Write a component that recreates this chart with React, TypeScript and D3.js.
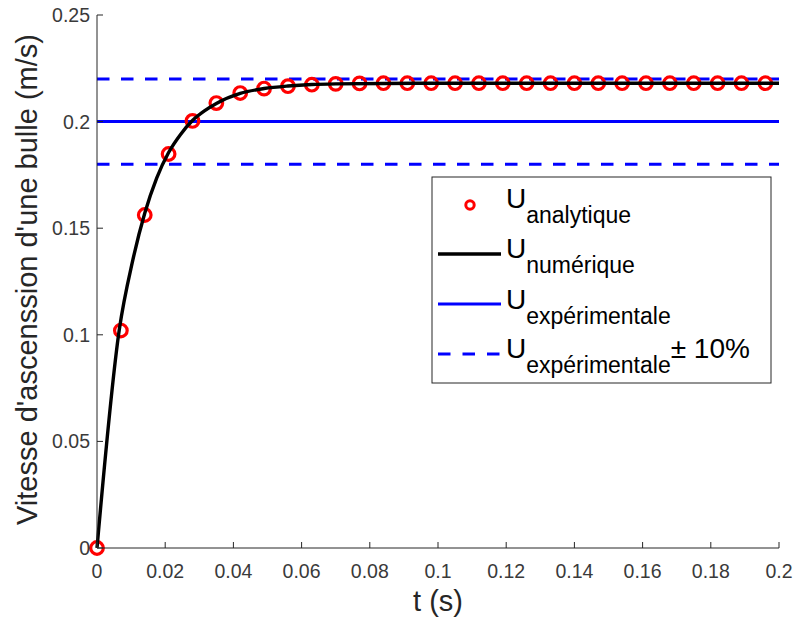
import React from "react";
import * as d3 from "d3";

// ---- Data ----
const analyticT = [0, 0.007, 0.014, 0.021, 0.028, 0.035, 0.042, 0.049, 0.056, 0.063, 0.07, 0.077, 0.084, 0.091, 0.098, 0.105, 0.112, 0.119, 0.126, 0.133, 0.14, 0.147, 0.154, 0.161, 0.168, 0.175, 0.182, 0.189, 0.196];
const analyticU = [0, 0.102, 0.1562, 0.1848, 0.2003, 0.2087, 0.2134, 0.2155, 0.2166, 0.2173, 0.2177, 0.2179, 0.218, 0.218, 0.218, 0.218, 0.218, 0.218, 0.218, 0.218, 0.218, 0.218, 0.218, 0.218, 0.218, 0.218, 0.218, 0.218, 0.218];

const numericT = [0, 0.0065, 0.0105, 0.014, 0.0175, 0.021, 0.0245, 0.028, 0.0315, 0.035, 0.042, 0.049, 0.056, 0.063, 0.07, 0.084, 0.1, 0.15, 0.2];
const numericU = [0, 0.102, 0.135, 0.157, 0.1735, 0.1855, 0.194, 0.2005, 0.205, 0.2085, 0.2132, 0.2155, 0.2167, 0.2174, 0.2177, 0.2179, 0.218, 0.218, 0.218];

const uExp = 0.2;
const uExpLow = 0.18;
const uExpHigh = 0.22;

const xTicks = [0, 0.02, 0.04, 0.06, 0.08, 0.1, 0.12, 0.14, 0.16, 0.18, 0.2];
const xTickLabels = ["0", "0.02", "0.04", "0.06", "0.08", "0.1", "0.12", "0.14", "0.16", "0.18", "0.2"];
const yTicks = [0, 0.05, 0.1, 0.15, 0.2, 0.25];
const yTickLabels = ["0", "0.05", "0.1", "0.15", "0.2", "0.25"];

const xLabel = "t (s)";
const yLabel = "Vitesse d'ascenssion d'une bulle (m/s)";
const legendSubs = ["analytique", "numérique", "expérimentale", "expérimentale"];

const FONT = "'Liberation Sans', Arial, Helvetica, sans-serif";

export default function App() {
  const W = 794, H = 624;
  const left = 97, right = 779, top = 15, bottom = 548;
  const x = d3.scaleLinear().domain([0, 0.2]).range([left, right]);
  const y = d3.scaleLinear().domain([0, 0.25]).range([bottom, top]);

  const numPts: [number, number][] = numericT.map((t, i) => [t, numericU[i]]);
  const line = d3.line<[number, number]>()
    .x(d => x(d[0]))
    .y(d => y(d[1]))
    .curve(d3.curveMonotoneX);

  const blue = "#0000ff";
  const red = "#ff0000";
  const axisColor = "#262626";
  const dash = "12.5 11.5";

  // legend layout
  const lgX = 432, lgY = 177, lgW = 339, lgH = 206;
  const rowBase = [208, 258, 309, 358];
  const textX = 506;

  return (
    <svg width={W} height={H} style={{ position: "absolute", left: 0, top: 0, background: "#fff" }} fontFamily={FONT}>
      <rect x={0} y={0} width={W} height={H} fill="#fff" />

      {/* reference lines */}
      <line x1={x(0)} x2={x(0.2)} y1={y(uExpHigh)} y2={y(uExpHigh)} stroke={blue} strokeWidth={3} strokeDasharray={dash} />
      <line x1={x(0)} x2={x(0.2)} y1={y(uExp)} y2={y(uExp)} stroke={blue} strokeWidth={3} />
      <line x1={x(0)} x2={x(0.2)} y1={y(uExpLow)} y2={y(uExpLow)} stroke={blue} strokeWidth={3} strokeDasharray={dash} />

      {/* analytic circles */}
      {analyticT.map((t, i) => (
        <circle key={i} cx={x(t)} cy={y(analyticU[i])} r={6.3} fill="none" stroke={red} strokeWidth={3.2} />
      ))}

      {/* numeric curve */}
      <path d={line(numPts) || ""} fill="none" stroke="#000" strokeWidth={3.4} strokeLinejoin="round" />

      {/* axes */}
      <line x1={left} x2={left} y1={top} y2={bottom} stroke={axisColor} strokeWidth={1} />
      <line x1={left} x2={right} y1={bottom} y2={bottom} stroke={axisColor} strokeWidth={1} />
      {xTicks.map((t, i) => (
        <g key={"xt" + i}>
          <line x1={x(t)} x2={x(t)} y1={bottom} y2={bottom - 6} stroke={axisColor} strokeWidth={1} />
          <text x={x(t)} y={578} textAnchor="middle" fontSize={19.5} fill="#3a3a3a">{xTickLabels[i]}</text>
        </g>
      ))}
      {yTicks.map((t, i) => (
        <g key={"yt" + i}>
          <line x1={left} x2={left + 6} y1={y(t)} y2={y(t)} stroke={axisColor} strokeWidth={1} />
          <text x={90} y={y(t) + 7} textAnchor="end" fontSize={19.5} fill="#3a3a3a">{yTickLabels[i]}</text>
        </g>
      ))}

      {/* axis labels */}
      <text x={(left + right) / 2} y={611} textAnchor="middle" fontSize={29} fill={axisColor}>{xLabel}</text>
      <text transform={`translate(37, ${(top + bottom) / 2 - 2}) rotate(-90)`} textAnchor="middle" fontSize={29} fill={axisColor}>{yLabel}</text>

      {/* legend */}
      <rect x={lgX} y={lgY} width={lgW} height={lgH} fill="#fff" stroke={axisColor} strokeWidth={1} />
      <circle cx={470} cy={rowBase[0] - 3} r={4.2} fill="none" stroke={red} strokeWidth={3} />
      <line x1={438} x2={501} y1={rowBase[1] - 4} y2={rowBase[1] - 4} stroke="#000" strokeWidth={3.4} />
      <line x1={438} x2={501} y1={rowBase[2] - 5} y2={rowBase[2] - 5} stroke={blue} strokeWidth={3} />
      <line x1={438} x2={501} y1={rowBase[3] - 4} y2={rowBase[3] - 4} stroke={blue} strokeWidth={3} strokeDasharray="12.5 12" />
      {legendSubs.map((s, i) => (
        <text key={"lg" + i} x={textX} y={rowBase[i]} fill="#000" fontSize={28}>
          <tspan>U</tspan>
          <tspan fontSize={23} dy={15}>{s}</tspan>
          {i === 3 ? <tspan dy={-15}>{"\u00B1 10%"}</tspan> : null}
        </text>
      ))}
    </svg>
  );
}
